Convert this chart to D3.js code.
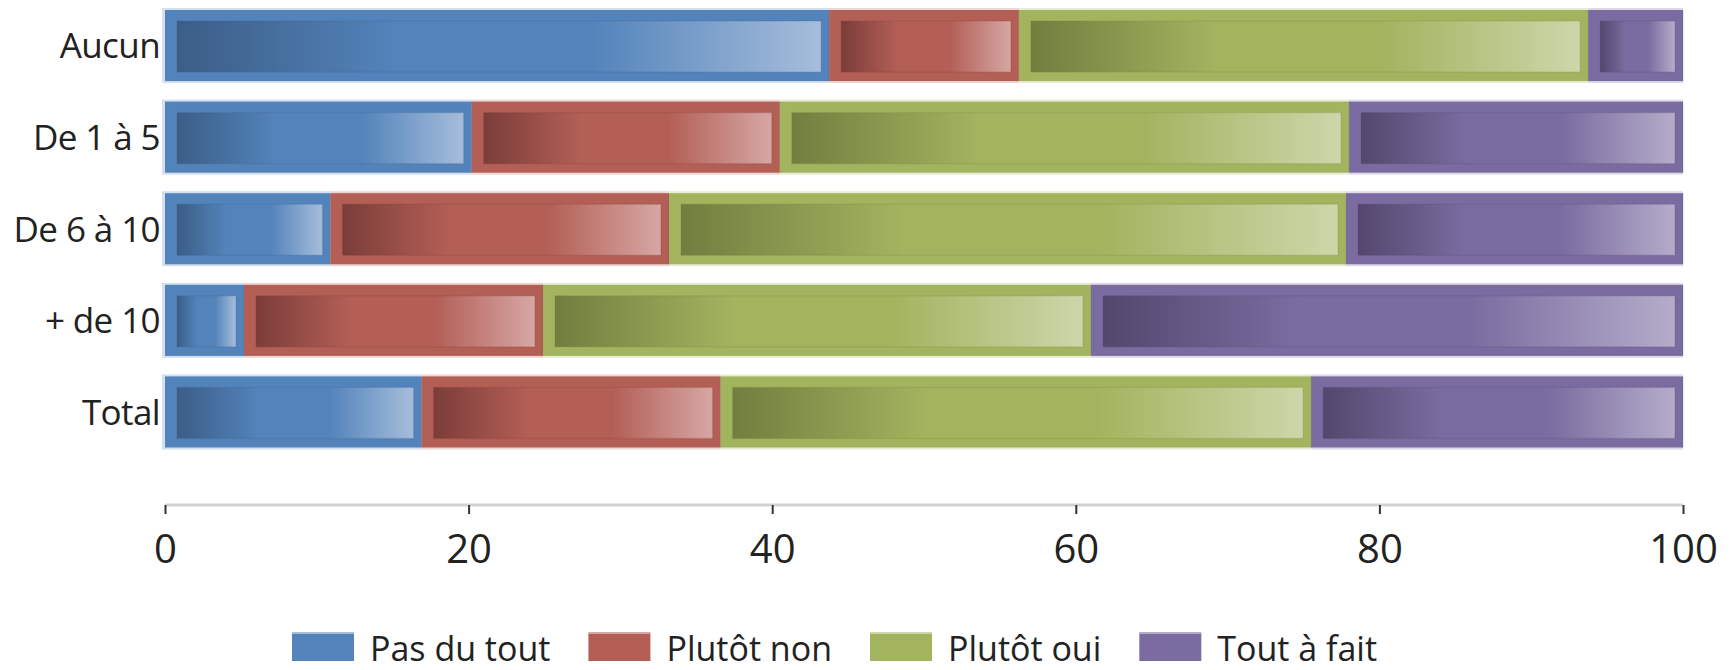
<!DOCTYPE html>
<html>
<head>
<meta charset="utf-8">
<script src="https://cdn.jsdelivr.net/npm/d3@7/dist/d3.min.js"></script>
<style>
  html, body { margin: 0; padding: 0; background: #ffffff; }
  svg { display: block; }
  text { font-family: "Open Sans", "Noto Sans", sans-serif; fill: #222; }
</style>
</head>
<body>
<svg id="chart" width="1731" height="670"></svg>
<script>
// ---- data ----
const categories = ["Aucun", "De 1 à 5", "De 6 à 10", "+ de 10", "Total"];
const seriesNames = ["Pas du tout", "Plutôt non", "Plutôt oui", "Tout à fait"];
const pasDuTout  = [43.75, 20.2, 10.9, 5.2, 16.9];
const plutotNon  = [12.5, 20.3, 22.3, 19.7, 19.7];
const plutotOui  = [37.5, 37.5, 44.6, 36.1, 38.9];
const toutAFait  = [6.25, 22.0, 22.2, 39.0, 24.5];
const tickValues = [0, 20, 40, 60, 80, 100];

// ---- styles ----
const baseColors  = ["#5283ba", "#b35f55", "#a3b45f", "#7a6ca0"];
const darkColors  = ["#3c5d86", "#7b3d39", "#717e3f", "#53476d"];
const lightColors = ["#a6bddb", "#d6a7a4", "#cdd6a9", "#b5acca"];

const svg = d3.select("#chart");
const x = d3.scaleLinear().domain([0, 100]).range([165, 1683]);
const y = d3.scaleBand().domain(categories).range([10, 447.5]).paddingInner(0.224).paddingOuter(0);

// gradients
const defs = svg.append("defs");
seriesNames.forEach((s, i) => {
  const g = defs.append("linearGradient").attr("id", "grad" + i)
    .attr("x1", "0").attr("x2", "1").attr("y1", "0").attr("y2", "0");
  g.append("stop").attr("offset", "0").attr("stop-color", darkColors[i]);
  g.append("stop").attr("offset", "0.34").attr("stop-color", baseColors[i]);
  g.append("stop").attr("offset", "0.64").attr("stop-color", baseColors[i]);
  g.append("stop").attr("offset", "1").attr("stop-color", lightColors[i]);
});

const seriesValues = [pasDuTout, plutotNon, plutotOui, toutAFait];
const rows = categories.map((c, ci) => {
  const obj = { cat: c };
  seriesNames.forEach((s, si) => obj[s] = seriesValues[si][ci]);
  return obj;
});
const stacked = d3.stack().keys(seriesNames)(rows);

// halos
stacked.forEach((layer, si) => {
  svg.append("g").selectAll("rect").data(layer).join("rect")
    .attr("x", d => x(d[0]) - (si === 0 ? 3 : 0))
    .attr("width", d => x(d[1]) - x(d[0]) + (si === 0 ? 3 : 0))
    .attr("y", d => y(d.data.cat) - 2)
    .attr("height", y.bandwidth() + 4)
    .attr("fill", baseColors[si]).attr("opacity", 0.25);
});

// segments
stacked.forEach((layer, si) => {
  const g = svg.append("g");
  g.selectAll("rect.outer").data(layer).join("rect").attr("class", "outer")
    .attr("x", d => x(d[0]))
    .attr("width", d => x(d[1]) - x(d[0]))
    .attr("y", d => y(d.data.cat))
    .attr("height", y.bandwidth())
    .attr("fill", baseColors[si]);
  g.selectAll("rect.inner").data(layer).join("rect").attr("class", "inner")
    .attr("x", d => x(d[0]) + 12)
    .attr("width", d => Math.max(0, x(d[1]) - x(d[0]) - 20))
    .attr("y", d => y(d.data.cat) + 11)
    .attr("height", y.bandwidth() - 20)
    .attr("fill", "url(#grad" + si + ")")
    .attr("stroke", darkColors[si]).attr("stroke-opacity", 0.18).attr("stroke-width", 1.5);
  g.selectAll("line.div").data(layer).join("line").attr("class", "div")
    .attr("x1", d => x(d[1])).attr("x2", d => x(d[1]))
    .attr("y1", d => y(d.data.cat)).attr("y2", d => y(d.data.cat) + y.bandwidth())
    .attr("stroke", darkColors[si]).attr("stroke-opacity", 0.25).attr("stroke-width", 1);
});

// y labels
svg.append("g").selectAll("text").data(categories).join("text")
  .attr("x", 160)
  .attr("y", d => y(d) + y.bandwidth() / 2)
  .attr("dy", "0.37em")
  .attr("text-anchor", "end")
  .style("font-size", "35px")
  .style("letter-spacing", "-0.6px")
  .text(d => d);

// x axis
const axisY = 505;
const ax = svg.append("g").attr("transform", `translate(0,${axisY})`)
  .call(d3.axisBottom(x).tickValues(tickValues).tickSize(9).tickPadding(22).tickFormat(d3.format("d")));
ax.select(".domain").attr("stroke", "#d2d2d2").attr("stroke-width", 3).attr("d", `M${x(0)},0H${x(100)}`);
ax.selectAll(".tick line").attr("stroke", "#333").attr("stroke-width", 2);
ax.selectAll(".tick text").attr("fill", "#222").style("font-size", "40px")
  .style("font-family", "'Open Sans', sans-serif").attr("dy", "0.71em").attr("y", 30);

// legend
const legend = svg.append("g");
let lx = 292;
seriesNames.forEach((s, i) => {
  legend.append("rect").attr("x", lx).attr("y", 633).attr("width", 62).attr("height", 28)
    .attr("fill", baseColors[i]);
  legend.append("rect").attr("x", lx).attr("y", 632).attr("width", 62).attr("height", 2)
    .attr("fill", lightColors[i]);
  const t = legend.append("text").attr("x", lx + 78).attr("y", 661)
    .style("font-size", "34px").text(s);
  const w = t.node().getComputedTextLength();
  lx += 78 + w + 38;
});
</script>
</body>
</html>
